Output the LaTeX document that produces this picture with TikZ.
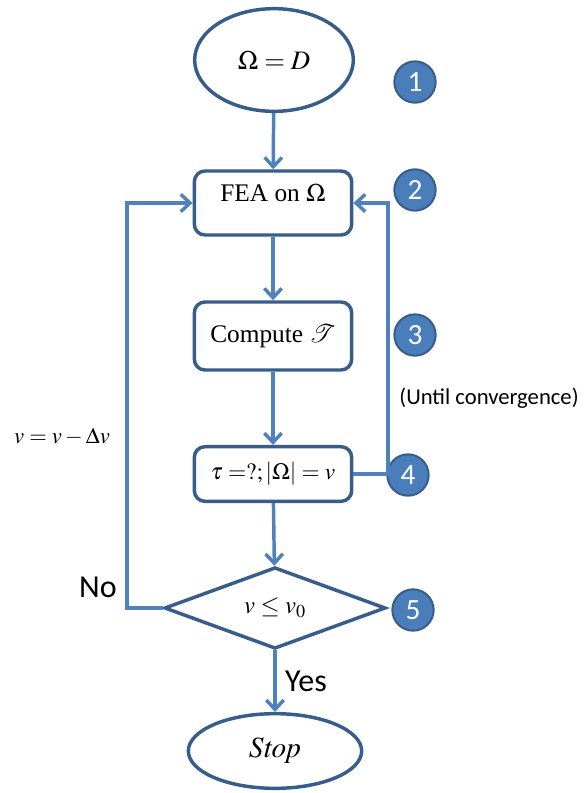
\documentclass[tikz,border=0pt]{standalone}
\usepackage{mathptmx}
\usepackage{fontspec}
\setmainfont{Liberation Serif}
\newfontfamily\calibri{Carlito}
\usetikzlibrary{shapes.geometric,arrows.meta,positioning}
\definecolor{flowblue}{RGB}{79,129,189}
\definecolor{stepblue}{RGB}{74,126,187}
\definecolor{edgeblue}{RGB}{56,93,138}

\begin{document}
\begin{tikzpicture}[x=0.75pt, y=-0.75pt, >={Straight Barb[length=7pt,width=13pt]},
    link/.style={flowblue, line width=2.6pt},
    procbox/.style={draw=edgeblue, line width=2.6pt, rounded corners=8pt, fill=white,
        minimum width=118pt, inner sep=2pt, font=\fontsize{19}{22}\selectfont},
    terminal/.style={draw=edgeblue, line width=2.6pt, ellipse, inner sep=0pt,
        font=\fontsize{20}{22}\selectfont},
    stepmark/.style={circle, draw=edgeblue, fill=stepblue, line width=1.5pt,
        minimum size=31pt, inner sep=0pt, text=white, font=\calibri\fontsize{22}{22}\selectfont},
    note/.style={text=black, font=\calibri\fontsize{24}{26}\selectfont}]
    \useasboundingbox (0,0) rectangle (583,793);

    \node[terminal, minimum width=119pt, minimum height=77pt] (start) at (274,60) {$\Omega = D$};
    \node[procbox, minimum height=48pt, text depth=15pt] (fea) at (273,203) {FEA on $\Omega$};
    \node[procbox, minimum height=51pt] (comp) at (273,336) {Compute $\mathcal{T}$};
    \node[procbox, minimum height=41pt, font=\fontsize{17.5}{20}\selectfont] (tau) at (273,474)
        {$\tau = ?;\left|\Omega\right| = v$};
    \node[diamond, draw=edgeblue, line width=2.6pt, inner sep=0pt,
        minimum width=166pt, minimum height=57pt, font=\fontsize{18.5}{20}\selectfont] (test) at (275,608) {$v \le v_0$};
    \node[terminal, minimum width=130pt, minimum height=56pt, font=\fontsize{22}{24}\selectfont] (stop) at (275,751) {$\mathit{Stop}$};

    \foreach \n/\x/\y in {1/415/82, 2/415/190, 3/415/335, 4/408/475, 5/413/610}
        \node[stepmark] (s\n) at (\x,\y) {\n};

    \coordinate (conv) at (388,474);
    \coordinate (back) at (127,608);

    \draw[link,->] (start) -- (fea);
    \draw[link,->] (fea) -- (comp);
    \draw[link,->] (comp) -- (tau);
    \draw[link,->] (tau) -- (test);
    \draw[link,->] (test) -- (stop) node[note, midway, right=3pt] {Yes};
    \draw[link,->] (tau.east) -- (conv) |- (fea.east);
    \draw[link,->] (test.west) -- (back) |- (fea.west);

    \node[note] (no) at (98,587) {No};
    \node[font=\calibri\fontsize{17}{19}\selectfont] (until) at (489,398) {(Until convergence)};
    \node[font=\fontsize{17}{20}\selectfont] (update) at (62,437) {$v = v - \Delta v$};
\end{tikzpicture}
\end{document}
